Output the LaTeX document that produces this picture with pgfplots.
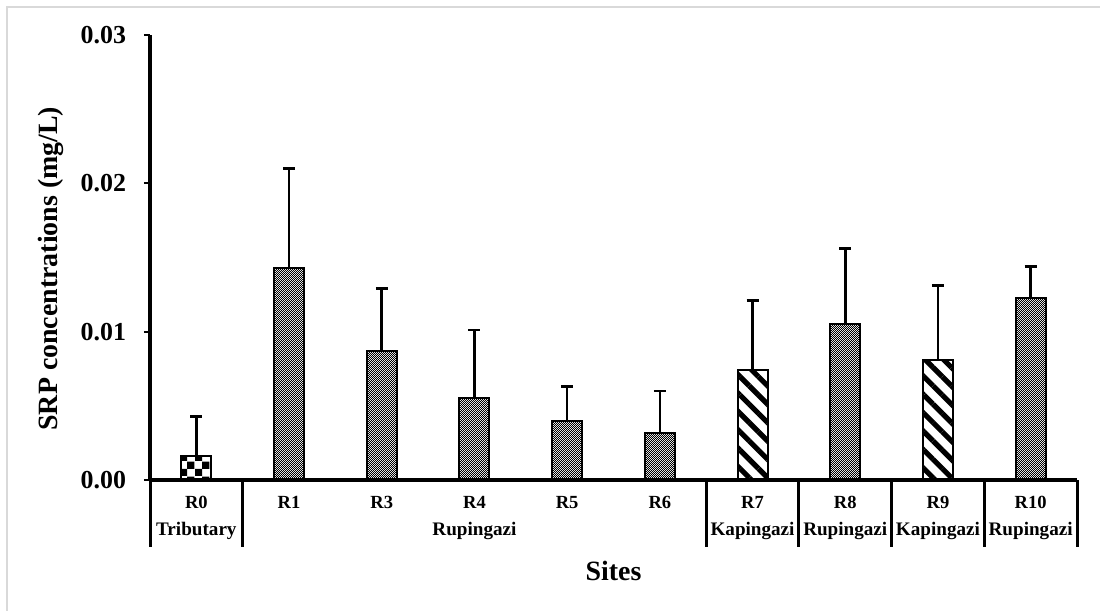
\documentclass[border=0pt]{standalone}
\usepackage{fontspec}
\setmainfont{Liberation Serif}
\usepackage{pgfplots}
\pgfplotsset{compat=1.18}
\usetikzlibrary{patterns,patterns.meta}

% fine dot-checker used for the Rupingazi sites
\pgfdeclarepatternformonly{finecheck}{\pgfpointorigin}{\pgfqpoint{1bp}{1bp}}{\pgfqpoint{1bp}{1bp}}{%
  \pgfpathrectangle{\pgfpointorigin}{\pgfqpoint{0.5bp}{0.5bp}}%
  \pgfpathrectangle{\pgfqpoint{0.5bp}{0.5bp}}{\pgfqpoint{0.5bp}{0.5bp}}%
  \pgfusepath{fill}}
% large checkerboard used for the tributary
\pgfdeclarepatternformonly{coarsecheck}{\pgfpointorigin}{\pgfqpoint{7.5bp}{7.5bp}}{\pgfqpoint{7.5bp}{7.5bp}}{%
  \pgfpathrectangle{\pgfpointorigin}{\pgfqpoint{3.75bp}{3.75bp}}%
  \pgfpathrectangle{\pgfqpoint{3.75bp}{3.75bp}}{\pgfqpoint{3.75bp}{3.75bp}}%
  \pgfusepath{fill}}

\begin{document}
\begin{tikzpicture}
\useasboundingbox (0,0) rectangle (550bp,305.5bp);
\draw[black!15, line width=1bp] (3.5bp,0) -- (3.5bp,302bp) -- (550bp,302bp);
\begin{axis}[
  at={(75bp,65.5bp)}, anchor=south west,
  scale only axis, width=463.5bp, height=222.5bp,
  xmin=-0.5, xmax=9.5, ymin=0, ymax=0.03,
  clip=false,
  axis lines*=left,
  axis line style={-},
  x axis line style={line width=2.3bp},
  y axis line style={line width=1.6bp},
  xtick={0,...,9},
  xticklabels={R0,R1,R3,R4,R5,R6,R7,R8,R9,R10},
  xtick style={draw=none},
  xticklabel style={anchor=center, text height=6.2bp, text depth=0pt, yshift=-8bp, font=\bfseries\fontsize{9.3}{10}\selectfont},
  ytick={0,0.01,0.02,0.03},
  yticklabels={0.00,0.01,0.02,0.03},
  scaled y ticks=false,
  /pgf/number format/assume math mode=true,
  ytick style={line width=1bp, black},
  tick align=outside,
  major tick length=3bp,
  yticklabel style={anchor=east, xshift=-5.5bp, font=\bfseries\fontsize{13}{15}\selectfont},
  ylabel={SRP concentrations (mg/L)},
  ylabel style={at={(axis description cs:-0.1068,0.475)}, anchor=center, font=\bfseries\fontsize{14}{16}\selectfont},
  xlabel={Sites},
  xlabel style={at={(axis description cs:0.5,-0.2047)}, anchor=center, font=\bfseries\fontsize{14}{16}\selectfont},
  ybar, bar width=15bp, bar shift=0pt,
  error bars/y dir=plus,
  error bars/y explicit,
  error bars/error bar style={line width=1.3bp, black},
  error bars/error mark options={rotate=90, mark size=3bp, line width=1.3bp, black},
]
% Tributary
\addplot[draw=black, line width=1bp, pattern=coarsecheck, pattern color=black]
  coordinates {(0,0.0016) +- (0,0.0027)};
% Rupingazi
\addplot[draw=black, line width=1bp, pattern=finecheck, pattern color=black]
  coordinates {
    (1,0.0143) +- (0,0.0067)
    (2,0.0087) +- (0,0.0042)
    (3,0.0055) +- (0,0.0046)
    (4,0.0040) +- (0,0.0023)
    (5,0.0032) +- (0,0.0028)
    (7,0.0105) +- (0,0.0051)
    (9,0.0123) +- (0,0.0021)
  };
% Kapingazi
\addplot[draw=black, line width=1bp, pattern={Lines[angle=-45,distance=6.5bp,line width=2.6bp]}, pattern color=black]
  coordinates {
    (6,0.0074) +- (0,0.0047)
    (8,0.0081) +- (0,0.0050)
  };
% group separators below the axis
\draw[line width=1.5bp] (axis cs:-0.5,0) -- ([yshift=-33.5bp]axis cs:-0.5,0);
\draw[line width=1.5bp] (axis cs:0.5,0) -- ([yshift=-33.5bp]axis cs:0.5,0);
\draw[line width=1.5bp] (axis cs:5.5,0) -- ([yshift=-33.5bp]axis cs:5.5,0);
\draw[line width=1.5bp] (axis cs:6.5,0) -- ([yshift=-33.5bp]axis cs:6.5,0);
\draw[line width=1.5bp] (axis cs:7.5,0) -- ([yshift=-33.5bp]axis cs:7.5,0);
\draw[line width=1.5bp] (axis cs:8.5,0) -- ([yshift=-33.5bp]axis cs:8.5,0);
\draw[line width=1.5bp] (axis cs:9.5,0) -- ([yshift=-33.5bp]axis cs:9.5,0);
% group names
\begin{scope}[every node/.style={font=\bfseries\fontsize{9.6}{10}\selectfont, anchor=center, yshift=-25.5bp}]
\node at (axis cs:0,0) {Tributary};
\node at (axis cs:3,0) {Rupingazi};
\node at (axis cs:6,0) {Kapingazi};
\node at (axis cs:7,0) {Rupingazi};
\node at (axis cs:8,0) {Kapingazi};
\node at (axis cs:9,0) {Rupingazi};
\end{scope}
\end{axis}
\end{tikzpicture}
\end{document}
